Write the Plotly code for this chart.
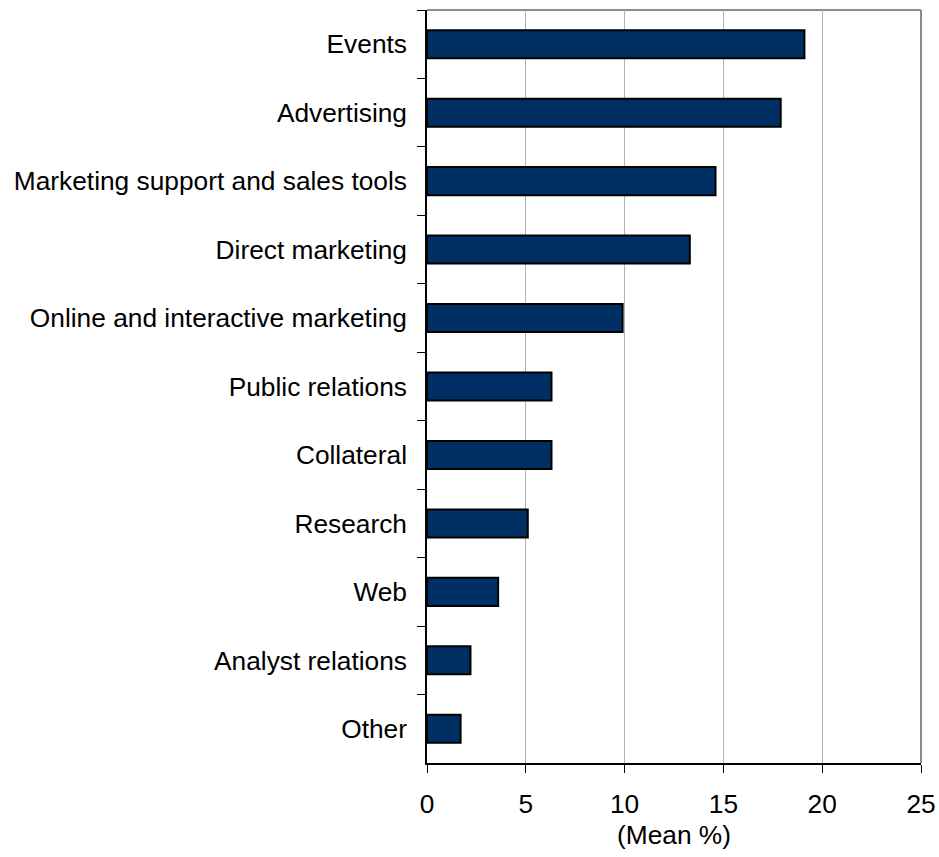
import plotly.graph_objects as go

# Marketing spend categories (top to bottom) and their mean share in percent
categories = [
    "Events",
    "Advertising",
    "Marketing support and sales tools",
    "Direct marketing",
    "Online and interactive marketing",
    "Public relations",
    "Collateral",
    "Research",
    "Web",
    "Analyst relations",
    "Other",
]
mean_pct = [19.1, 17.9, 14.6, 13.3, 9.9, 6.3, 6.3, 5.1, 3.6, 2.2, 1.7]

x_ticks = [0, 5, 10, 15, 20, 25]

FONT = "Liberation Sans, Arial, sans-serif"
FS = 26.3

fig = go.Figure(
    go.Bar(
        x=mean_pct,
        y=categories,
        orientation="h",
        width=0.41,
        marker=dict(color="#003063", line=dict(color="#000000", width=2)),
        hoverinfo="x+y",
    )
)

fig.update_layout(
    width=939,
    height=857,
    margin=dict(l=427, r=18, t=10, b=94),
    paper_bgcolor="white",
    plot_bgcolor="white",
    font=dict(family=FONT, size=FS, color="#000000"),
    showlegend=False,
    shapes=[
        # gray frame on top and right edges of the plot area
        dict(type="line", xref="paper", yref="paper", x0=0, x1=1, y0=1, y1=1,
             line=dict(color="#8c8c8c", width=2), layer="below"),
        dict(type="line", xref="paper", yref="paper", x0=1, x1=1, y0=0, y1=1,
             line=dict(color="#8c8c8c", width=2), layer="below"),
    ],
)

fig.update_xaxes(
    automargin=False,
    range=[0, 25],
    tickvals=x_ticks,
    ticktext=[str(v) for v in x_ticks],
    showgrid=True,
    gridcolor="#b3b3b3",
    gridwidth=1,
    zeroline=False,
    showline=True,
    linecolor="#000000",
    linewidth=1.5,
    ticks="outside",
    ticklen=8,
    tickcolor="#000000",
    tickwidth=1,
    tickfont=dict(size=FS),
    ticklabelstandoff=9,
    title=dict(text="(Mean %)", font=dict(size=FS), standoff=7),
)

fig.update_yaxes(
    automargin=False,
    autorange="reversed",
    type="category",
    tickson="boundaries",
    showgrid=False,
    zeroline=False,
    showline=True,
    linecolor="#000000",
    linewidth=1.5,
    ticks="outside",
    ticklen=8,
    tickcolor="#000000",
    tickwidth=1,
    tickfont=dict(size=FS),
    ticklabelstandoff=13,
)

fig.write_html("out.html")
